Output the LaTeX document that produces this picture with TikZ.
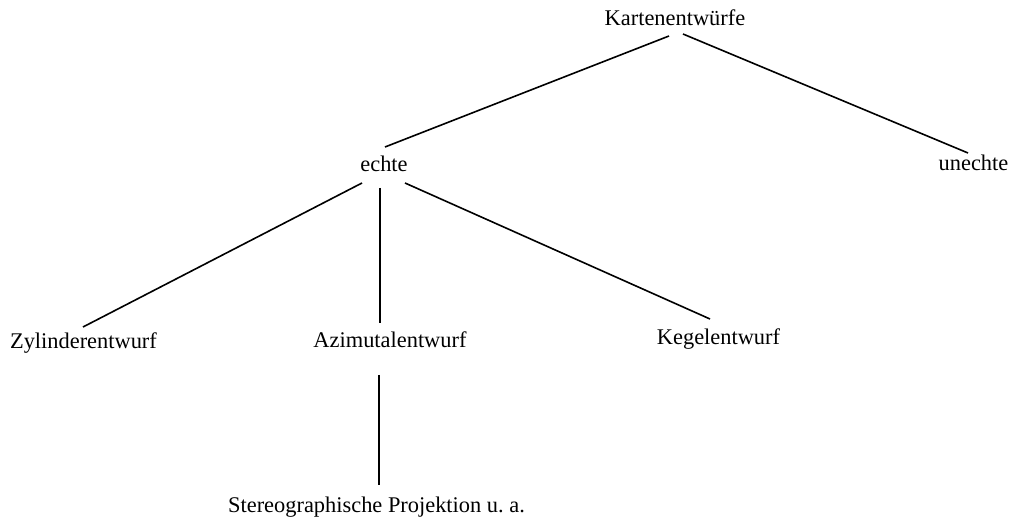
\documentclass[tikz,border=0pt]{standalone}
\usepackage{fontspec}
\setmainfont{Liberation Serif}
\usetikzlibrary{calc}
\begin{document}
\begin{tikzpicture}[x=1pt,y=-1pt,
  lbl/.style={anchor=base,inner sep=0pt,font=\fontsize{22.4}{26}\selectfont},
  conn/.style={line width=1.6pt,black}]
\useasboundingbox (0,0) rectangle (1010,518);
\node[lbl] (karten) at (675,26) {Kartenentwürfe};
\node[lbl] (echte) at (384,172) {echte};
\node[lbl] (unechte) at (973.5,171) {unechte};
\node[lbl] (zyl) at (83.5,349) {Zylinderentwurf};
\node[lbl] (azi) at (390,348) {Azimutalentwurf};
\node[lbl] (keg) at (718.5,345) {Kegelentwurf};
\node[lbl] (ster) at (376.5,512) {Stereographische Projektion u.\ a.};
\draw[conn] ($(karten.base)+(-6,10)$) -- ($(echte.base)+(1,-25)$);
\draw[conn] ($(karten.base)+(8,8)$) -- ($(unechte.base)+(-5.5,-18)$);
\draw[conn] ($(echte.base)+(-22,11)$) -- ($(zyl.base)+(-0.5,-22)$);
\draw[conn] ($(echte.base)+(-4,16)$) -- ($(azi.base)+(-10,-25)$);
\draw[conn] ($(echte.base)+(21,11)$) -- ($(keg.base)+(-8.5,-26)$);
\draw[conn] ($(azi.base)+(-11,27)$) -- ($(ster.base)+(2.5,-27)$);
\end{tikzpicture}
\end{document}
